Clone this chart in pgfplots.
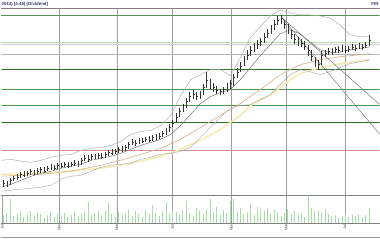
\documentclass[border=0pt]{standalone}
\usepackage{fontspec}
\setmainfont{Liberation Sans}
\usepackage{pgfplots}
\usepackage{pgfplotstable}
\pgfplotsset{compat=1.18}
\definecolor{navy}{HTML}{34346E}
\definecolor{volg}{HTML}{A8DCA8}
\definecolor{maone}{HTML}{6A6A6A}
\definecolor{matwo}{HTML}{D8B088}
\definecolor{mathree}{HTML}{F3ECB4}
\definecolor{bbc}{HTML}{ABABAB}
\definecolor{gmid}{HTML}{4E9A4E}
\definecolor{gdark}{HTML}{2E702E}
\definecolor{glight}{HTML}{B9D9B0}
\definecolor{rlev}{HTML}{D59090}

\pgfplotstableread{
x c h l v
2 12 15 8 8
5.4 11 14 8 10
8.8 15 17 10 24
12.2 17 19 14 7
15.6 18 21 15 9
19 21 23 17 11
22.4 20 24 18 6
25.8 22 24 19 8
29.2 24 26 20 12
32.6 22 25 20 7
36 24 27 21 10
39.4 26 28 22 9
42.8 24 28 22 5
46.2 27 29 24 8
49.6 28 31 25 11
53 27 30 25 6
56.4 30 32 26 9
59.8 29 32 27 7
63.2 31 33 28 10
66.6 29 33 27 6
70 31 33 28 8
73.4 32 35 29 12
76.8 30 34 28 7
80.2 35 37 30 9
83.6 37 40 34 11
87 36 40 33 21
90.4 39 41 35 8
93.8 38 41 36 10
97.2 40 42 36 13
100.6 38 42 36 7
104 41 43 37 12
107.4 43 45 39 21
110.8 42 46 40 9
114.2 44 46 41 6
117.6 46 48 42 11
121 45 49 43 8
124.4 48 50 44 10
127.8 51 53 46 14
131.2 53 56 50 7
134.6 52 55 49 12
138 55 57 51 9
141.4 54 57 52 6
144.8 56 58 53 13
148.2 55 59 53 8
151.6 58 60 54 18
155 57 61 55 10
158.4 59 62 56 7
161.8 62 64 58 12
165.2 64 67 60 21
168.6 68 71 63 9
172 72 75 68 14
175.4 78 82 72 11
178.8 84 88 78 8
182.2 88 92 83 13
185.6 94 98 88 22
189 99 104 94 10
192.4 101 106 97 7
195.8 99 104 96 15
199.2 102 105 97 12
202.6 108 112 101 9
206 115 124 108 14
209.4 112 117 107 24
212.8 108 113 104 11
216.2 105 110 102 16
219.6 104 107 101 8
223 106 109 102 13
226.4 109 113 104 10
229.8 112 116 107 22
233.2 118 122 110 24
236.6 124 128 118 12
240 130 134 124 15
243.4 135 140 130 9
246.8 141 146 136 11
250.2 146 150 140 19
253.6 149 153 144 8
257 152 156 147 16
260.4 155 158 150 14
263.8 159 163 153 12
267.2 163 167 158 15
270.6 167 171 162 9
274 172 176 166 13
277.4 176 180 171 11
280.8 178 181 172 7
284.2 172 176 167 10
287.6 166 172 162 14
291 162 167 157 9
294.4 157 162 152 12
297.8 155 159 150 8
301.2 153 157 149 10
304.6 150 155 146 6
308 146 151 140 29
311.4 140 146 135 15
314.8 134 139 129 12
318.2 132 136 126 13
321.6 141 145 131 11
325 143 146 139 14
328.4 145 148 141 9
331.8 144 148 141 7
335.2 147 149 143 8
338.6 146 150 143 5
342 148 151 144 7
345.4 146 150 143 9
348.8 147 150 144 6
352.2 149 152 146 8
355.6 148 151 145 7
359 150 153 147 9
362.4 149 152 146 6
365.8 151 154 148 8
369.2 156 161 150 15
}\ohlc

\pgfplotstableread{
x y
0 8
10 11
20 15
30 19
40 22
50 24
60 27
70 29
80 31
90 35
100 37
110 39
120 42
130 46
140 50
150 53
160 56
170 61
180 70
190 81
200 92
210 99
220 103
230 106
240 116
250 128
260 140
270 151
280 162
290 166
300 162
310 154
320 146
330 143
340 144
350 146
360 147
370 149
}\maone

\pgfplotstableread{
x y
0 19
20 20
40 21
60 23
80 26
100 30
120 35
140 41
160 47
180 56
200 68
220 80
240 92
260 106
280 121
300 131
320 136
340 139
360 141
370 142
}\matwo

\pgfplotstableread{
x y
0 21
20 21
40 22
60 23
80 25
100 27
120 30
140 34
160 39
180 46
200 55
220 66
240 80
250 90
260 96
270 100
280 108
290 116
300 122
320 128
340 132
360 135
370 136
}\mathree

\pgfplotstableread{
x y
0 35
10 36
20 34
30 33
40 35
50 38
60 40
70 41
80 45
90 47
100 48
110 50
120 54
130 61
140 64
150 65
160 70
170 80
180 100
190 116
200 121
210 126
220 126
230 120
240 138
250 158
260 169
270 180
280 186
290 183
300 181
310 181
320 180
330 178
340 171
350 161
360 159
370 160
}\bbup

\pgfplotstableread{
x y
0 4
10 5
20 6
30 7
40 8
50 10
60 16
70 19
80 20
90 24
100 28
110 30
120 31
130 32
140 36
150 38
160 41
170 42
180 44
190 48
200 58
210 68
220 78
230 88
240 90
250 91
260 96
270 101
280 111
290 121
300 126
310 124
320 121
330 124
340 128
350 132
360 134
370 136
}\bblow

\begin{document}
\begin{tikzpicture}[x=1pt,y=1pt]
\fill[white] (0pt,0pt) rectangle (380pt,240pt);
\begin{axis}[
  at={(0pt,44pt)}, anchor=south west, scale only axis,
  width=380pt, height=188pt,
  xmin=0, xmax=380, ymin=0, ymax=188,
  separate axis lines,
  x axis line style={draw=black!50, line width=0.6pt},
  y axis line style={draw=none},
  xtick={58,116,172,231,286,345}, xticklabels={},
  ytick=\empty, major tick length=0pt,
  xmajorgrids, major grid style={black!38, line width=0.4pt},
]
% horizontal levels
\addplot[gmid, line width=0.6pt] coordinates {(0,181) (380,181)};
\addplot[glight, line width=0.6pt] coordinates {(0,154) (380,154)};
\addplot[black!20, line width=0.6pt] coordinates {(0,151) (380,151)};
\addplot[black!30, line width=0.5pt] coordinates {(0,142) (380,142)};
\addplot[gdark, line width=0.6pt] coordinates {(0,126) (380,126)};
\addplot[gmid, line width=0.6pt] coordinates {(0,106.5) (380,106.5)};
\addplot[gmid, line width=0.6pt] coordinates {(0,90) (380,90)};
\addplot[gdark, line width=0.6pt] coordinates {(0,73) (380,73)};
\addplot[rlev, line width=0.6pt] coordinates {(0,45) (380,45)};
% indicators
\addplot[mathree, line width=1.6pt] table[x=x,y=y] {\mathree};
\addplot[matwo, line width=0.6pt] table[x=x,y=y] {\matwo};
\addplot[bbc, line width=0.45pt] table[x=x,y=y] {\bbup};
\addplot[bbc, line width=0.45pt] table[x=x,y=y] {\bblow};
\addplot[maone, line width=0.45pt] table[x=x,y=y] {\maone};
% trend lines
\addplot[black!55, line width=0.45pt] coordinates {(281,179) (380,91)};
\addplot[black!55, line width=0.45pt] coordinates {(281,179) (380,61)};
% price bars
\addplot[black!80, only marks, mark=-, mark size=0.9pt, mark options={xshift=0.7pt, line width=0.35pt},
  error bars/.cd, y dir=both, y explicit, error mark=none,
  error bar style={black!80, line width=0.35pt}]
  table[x=x, y=c, y error plus expr=\thisrow{h}-\thisrow{c}, y error minus expr=\thisrow{c}-\thisrow{l}] {\ohlc};
\end{axis}
\begin{axis}[
  at={(0pt,16pt)}, anchor=south west, scale only axis,
  width=380pt, height=28pt,
  xmin=0, xmax=380, ymin=0, ymax=28,
  separate axis lines,
  x axis line style={draw=black!50, line width=0.6pt},
  y axis line style={draw=none},
  xtick={1,58,116,172,231,286,345},
  xticklabels={Jul,Nov,Mar,Jul,Nov,Mar,Jul},
  xticklabel style={rotate=90, anchor=east, font=\fontsize{3.8}{4}\selectfont, text=black!70, inner sep=1pt},
  ytick=\empty, major tick length=0pt,
  xmajorgrids, major grid style={black!38, line width=0.4pt},
]
\addplot[ycomb, volg, line width=0.6pt, mark=none] table[x=x, y=v] {\ohlc};
\end{axis}
\draw[black!40, line width=0.5pt] (0pt,2pt) -- (380pt,2pt);
\node[anchor=west, inner sep=0pt, text=navy, font=\fontsize{4.4}{5}\selectfont\bfseries] at (0pt,236pt) {2014) [4.45] [Dividend]};
\node[anchor=east, inner sep=0pt, text=navy, font=\fontsize{4.4}{5}\selectfont\bfseries] at (379pt,236pt) {FIN};
\end{tikzpicture}
\end{document}
